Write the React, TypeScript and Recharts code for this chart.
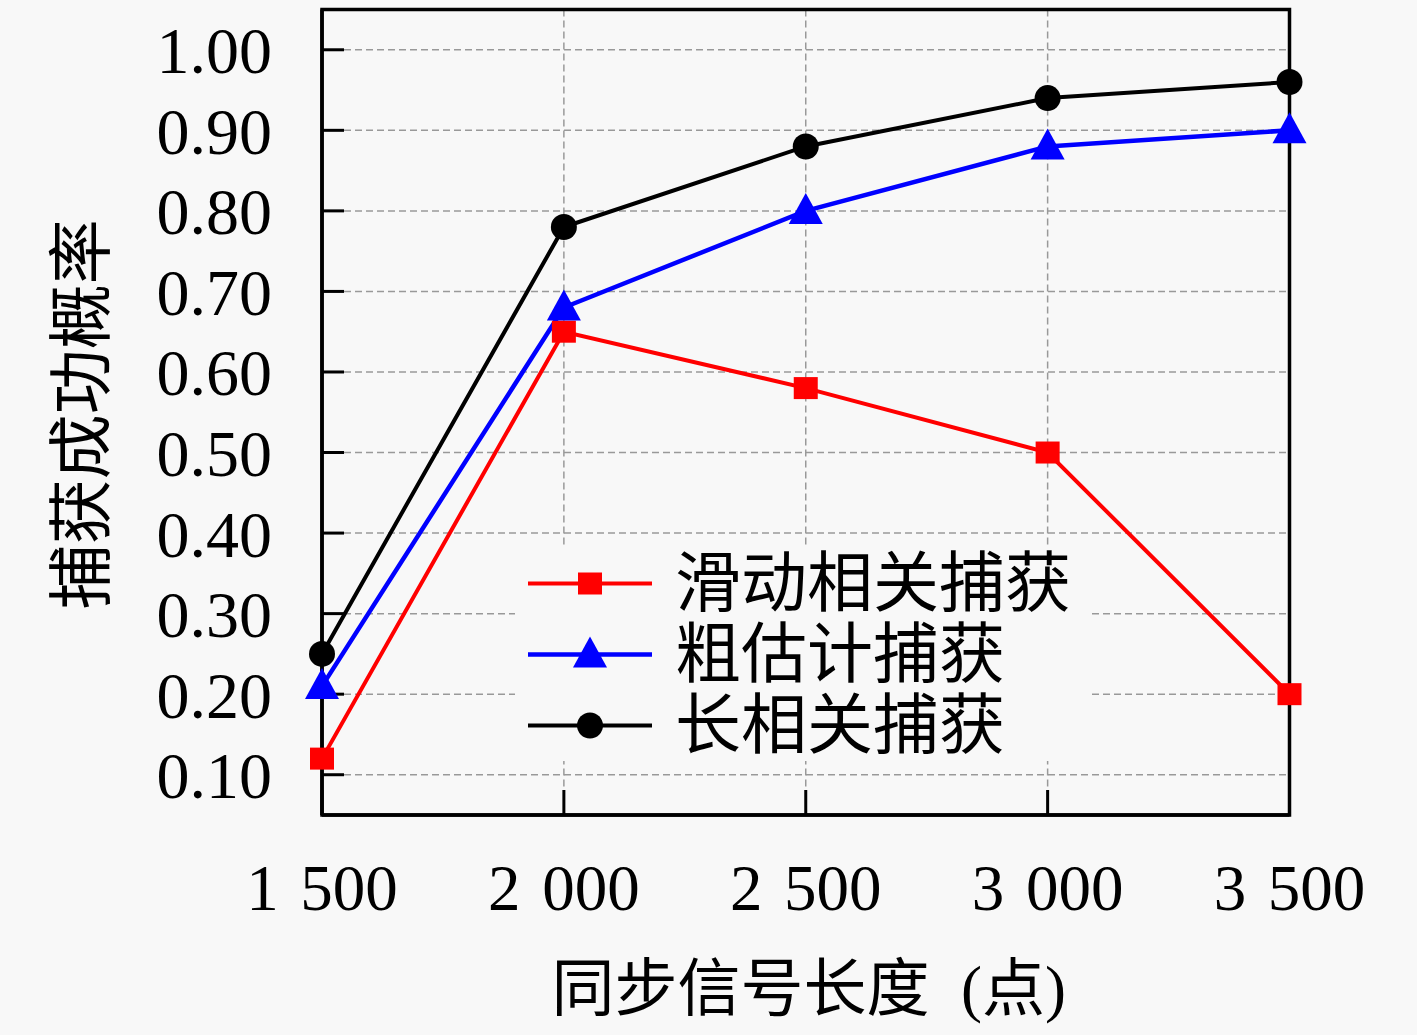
import React from 'react';
import {
  LineChart,
  Line,
  XAxis,
  YAxis,
  CartesianGrid,
  Legend,
  ReferenceArea,
} from 'recharts';

// 同步信号长度 (点)
const lengths = [1500, 2000, 2500, 3000, 3500];
const lengthLabels = ['1\u2004500', '2\u2004000', '2\u2004500', '3\u2004000', '3\u2004500'];

// 捕获成功概率
const slidingValues = [0.12, 0.65, 0.58, 0.5, 0.2];
const coarseValues = [0.21, 0.68, 0.8, 0.88, 0.9];
const longValues = [0.25, 0.78, 0.88, 0.94, 0.96];

const yTicks = [0.1, 0.2, 0.3, 0.4, 0.5, 0.6, 0.7, 0.8, 0.9, 1.0];

const seriesNames = ['滑动相关捕获', '粗估计捕获', '长相关捕获'];

const BG = '#f8f8f8';
const SERIF = "'Liberation Serif', 'Noto Sans CJK SC', serif";

const data = lengths.map((len, i) => ({
  len,
  sliding: slidingValues[i],
  coarse: coarseValues[i],
  long: longValues[i],
}));

type Shape = 'square' | 'triangle' | 'circle';

const series: { key: string; name: string; color: string; width: number; shape: Shape }[] = [
  { key: 'sliding', name: seriesNames[0], color: '#ff0000', width: 4, shape: 'square' },
  { key: 'coarse', name: seriesNames[1], color: '#0000ff', width: 4.5, shape: 'triangle' },
  { key: 'long', name: seriesNames[2], color: '#000000', width: 4, shape: 'circle' },
];

const Marker = ({ cx, cy, shape, color }: { cx: number; cy: number; shape: Shape; color: string }) => {
  if (shape === 'square') {
    return <rect x={cx - 12} y={cy - 11} width={24} height={22} fill={color} />;
  }
  if (shape === 'triangle') {
    return (
      <polygon
        points={`${cx},${cy - 18} ${cx - 17},${cy + 13} ${cx + 17},${cy + 13}`}
        fill={color}
      />
    );
  }
  return <circle cx={cx} cy={cy} r={13} fill={color} />;
};

const LegendContent = ({ payload }: any) => (
  <div style={{ background: BG, width: 575, height: 213 }}>
    {(payload || []).map((entry: any) => {
      const s = series.find((x) => x.key === entry.dataKey) || series[0];
      return (
        <div key={s.key} style={{ display: 'flex', alignItems: 'center', height: 71 }}>
          <svg width={160} height={71}>
            <line x1={13} x2={137} y1={35.5} y2={35.5} stroke={s.color} strokeWidth={s.width} />
            <Marker cx={75} cy={35.5} shape={s.shape} color={s.color} />
          </svg>
          <span
            style={{
              fontFamily: SERIF,
              fontSize: 66,
              lineHeight: '71px',
              color: '#000',
              whiteSpace: 'nowrap',
            }}
          >
            {entry.value}
          </span>
        </div>
      );
    })}
  </div>
);

export default function App() {
  return (
    <div
      style={{
        position: 'absolute',
        left: 0,
        top: 0,
        width: 1417,
        height: 1035,
        background: BG,
      }}
    >
      <LineChart
        width={1417}
        height={1035}
        data={data}
        margin={{ top: 9.5, right: 127.5, left: 0, bottom: 0 }}
      >
        <CartesianGrid stroke="#999" strokeWidth={1.5} strokeDasharray="7 4" />
        <XAxis
          dataKey="len"
          type="number"
          domain={[1500, 3500]}
          ticks={lengths}
          tickFormatter={(v) => lengthLabels[lengths.indexOf(v)]}
          height={220}
          axisLine={{ stroke: '#000', strokeWidth: 3.5 }}
          tickLine={{ stroke: '#000', strokeWidth: 3 }}
          tickSize={-25}
          tickMargin={74}
          tick={{ fill: '#000', fontSize: 65, fontFamily: SERIF }}
          interval={0}
          label={{
            content: ({ viewBox }: any) => (
              <text
                x={viewBox.x + viewBox.width / 2 + 3}
                y={viewBox.y + 174}
                textAnchor="middle"
                dominantBaseline="central"
                fontFamily={SERIF}
                fontSize={63}
                fill="#000"
              >
                同步信号长度{'\u2002'}(点)
              </text>
            ),
          }}
        />
        <YAxis
          type="number"
          domain={[0.05, 1.05]}
          ticks={yTicks}
          tickFormatter={(v) => v.toFixed(2)}
          width={322}
          axisLine={{ stroke: '#000', strokeWidth: 3.5 }}
          tickLine={{ stroke: '#000', strokeWidth: 3 }}
          tickSize={-22}
          tickMargin={72}
          tick={{ fill: '#000', fontSize: 66, fontFamily: SERIF }}
          interval={0}
          label={{
            content: ({ viewBox }: any) => {
              const x = viewBox.x + 82;
              const y = viewBox.y + viewBox.height / 2 + 2;
              return (
                <text
                  x={x}
                  y={y}
                  transform={`rotate(-90, ${x}, ${y})`}
                  textAnchor="middle"
                  dominantBaseline="central"
                  fontFamily={SERIF}
                  fontSize={65}
                  fill="#000"
                >
                  捕获成功概率
                </text>
              );
            },
          }}
        />
        <ReferenceArea
          x1={1500}
          x2={3500}
          y1={0.05}
          y2={1.05}
          fill="none"
          stroke="#000"
          strokeWidth={3.5}
          ifOverflow="visible"
        />
        <Legend
          layout="vertical"
          align="center"
          verticalAlign="middle"
          content={<LegendContent />}
          wrapperStyle={{ position: 'absolute', left: 515, top: 548, width: 575, height: 213 }}
        />
        {series.map((s) => (
          <Line
            key={s.key}
            type="linear"
            dataKey={s.key}
            name={s.name}
            stroke={s.color}
            strokeWidth={s.width}
            isAnimationActive={false}
            dot={(p: any) => (
              <Marker key={`${s.key}-${p.index}`} cx={p.cx} cy={p.cy} shape={s.shape} color={s.color} />
            )}
            activeDot={false}
          />
        ))}
      </LineChart>
    </div>
  );
}
